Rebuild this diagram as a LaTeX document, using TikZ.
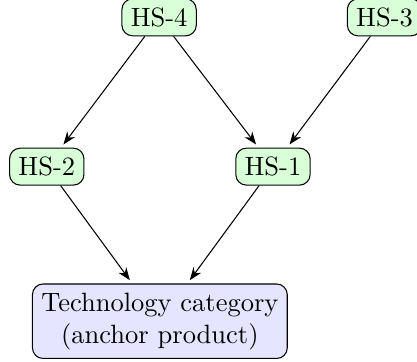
\documentclass[tikz,border=0pt]{standalone}
\usepackage{xcolor}
\usepackage{tikz}
\usetikzlibrary{arrows.meta}
\tikzstyle{HSNode}=[draw,rounded corners=4pt,fill=green!15]
\tikzstyle{CatNode}=[draw,rounded corners=4pt,fill=blue!10,align=center]
\tikzstyle{Edge}=[-{Stealth},shorten >=1.5pt]

\begin{document}
\begin{tikzpicture}
        \useasboundingbox (-2.11,0.23) rectangle (3.42,-4.57);
        \node[HSNode](hs4)at(0.00,0.00){HS-4};
        \node[HSNode](hs3)at(2.99,0.00){HS-3};
        \node[HSNode](hs2)at(-1.49,-1.98){HS-2};
        \node[HSNode](hs1)at(1.51,-1.98){HS-1};
        \node[CatNode](cat)at(0.01,-4.03){Technology category\\(anchor product)};
        \draw[Edge](hs4)--(hs2);
        \draw[Edge](hs4)--(hs1);
        \draw[Edge](hs3)--(hs1);
        \draw[Edge](hs2)--(cat);
        \draw[Edge](hs1)--(cat);
    \end{tikzpicture}
\end{document}
